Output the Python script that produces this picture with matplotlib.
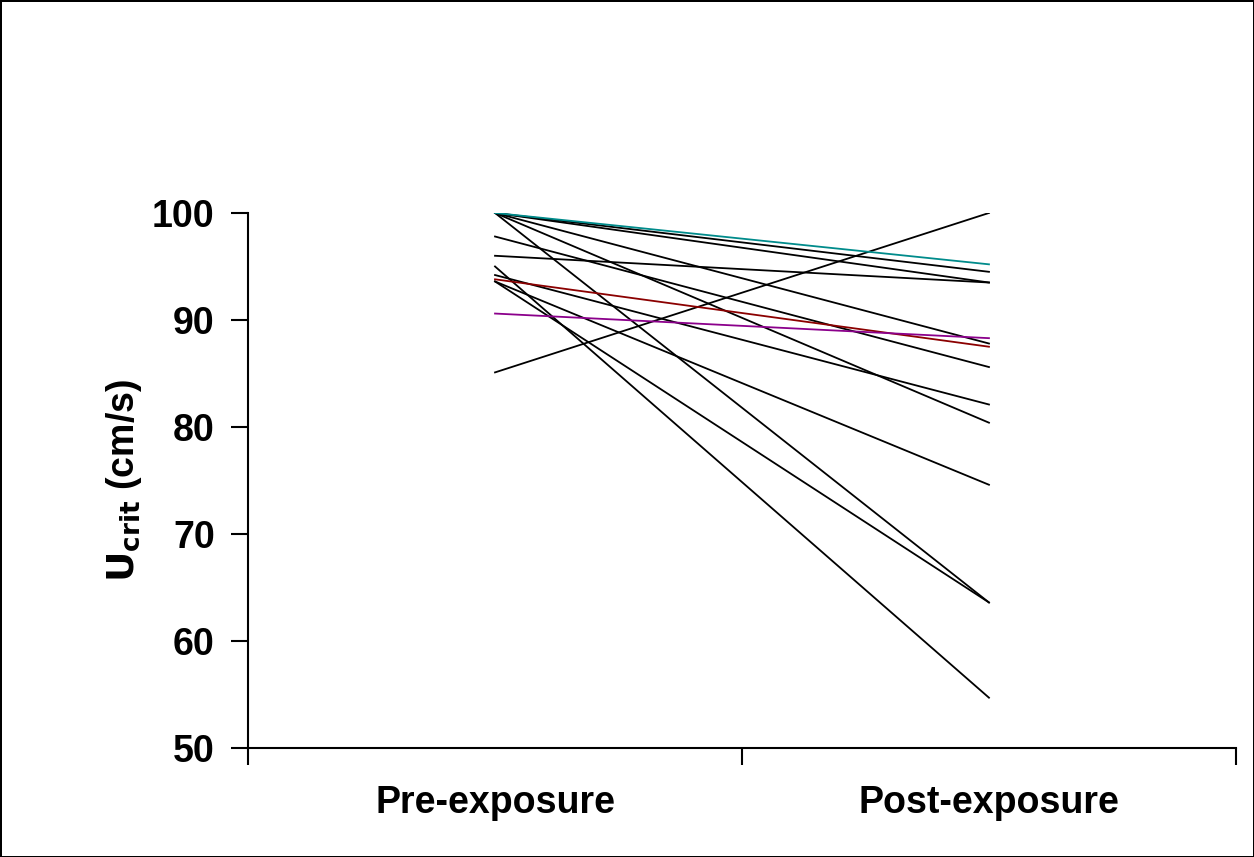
import matplotlib.pyplot as plt

plt.rcParams['font.family'] = ['Liberation Sans', 'DejaVu Sans']
plt.rcParams['font.weight'] = 'bold'

groups = ['Pre-exposure', 'Post-exposure']

# one entry per fish: Ucrit before and after exposure (cm/s)
pre = [100, 100, 96.0, 100, 97.8, 100, 100, 95.0, 93.6, 94.2, 93.6, 85.1, 93.8, 90.6, 100]
post = [94.5, 93.5, 93.5, 87.8, 85.6, 80.4, 63.6, 54.7, 63.6, 82.1, 74.6, 100, 87.5, 88.3, 95.2]
colors = ['black'] * 12 + ['#8b0000', '#8b008b', '#008b8b']

fig = plt.figure(figsize=(12.54, 8.57), dpi=100)
fig.patch.set_edgecolor('black')
fig.patch.set_linewidth(2)
ax = fig.add_axes([0.1978, 0.1272, 0.7878, 0.6243])

for a, b, c in zip(pre, post, colors):
    z = 3 if c != 'black' else 2
    ax.plot([0.5, 1.5], [a, b], color=c, lw=1.3, zorder=z)

ax.set_xlim(0, 2)
ax.set_ylim(50, 100)
ax.set_yticks([50, 60, 70, 80, 90, 100])
ax.set_xticks([0, 1, 2])
ax.set_xticklabels([])
ax.set_xticks([0.5, 1.5], minor=True)
ax.set_xticklabels(groups, minor=True, fontsize=27, fontweight='bold')
ax.tick_params(axis='x', which='minor', length=0, pad=27)
ax.tick_params(axis='x', which='major', length=12, width=1.5, direction='out')
ax.tick_params(axis='y', length=12, width=1.5, direction='out', pad=12, labelsize=27)

for s in ['top', 'right']:
    ax.spines[s].set_visible(False)
for s in ['left', 'bottom']:
    ax.spines[s].set_linewidth(1.5)

ax.set_ylabel(r'$\mathbf{U_{crit}}$ (cm/s)', fontsize=27, fontweight='bold', labelpad=6)

fig.savefig('out.png', dpi=100)
